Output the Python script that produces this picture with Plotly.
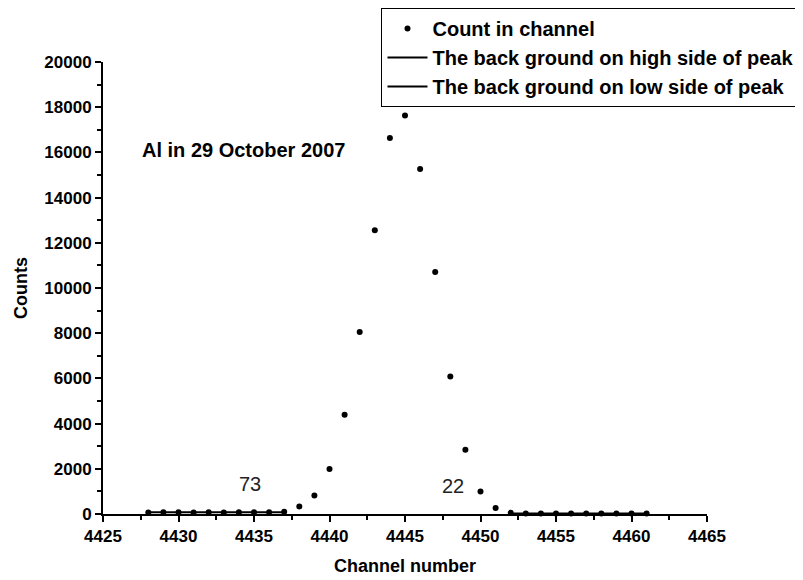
import plotly.graph_objects as go

channels = list(range(4428, 4462))
counts = [70, 75, 72, 68, 74, 71, 77, 73, 78, 95,
          336, 823, 1991, 4390, 8055, 12550, 16637, 17637, 15265, 10708,
          6088, 2845, 1000, 265, 50, 25, 22, 20, 23, 21, 22, 24, 20, 22]

low_bg_x = [4428, 4437]
low_bg_y = [73, 73]
high_bg_x = [4452, 4461]
high_bg_y = [22, 22]

label_text = "Al in 29 October 2007"
low_label = "73"
high_label = "22"

FONT = "Liberation Sans, Arial, sans-serif"

fig = go.Figure()
fig.add_trace(go.Scatter(x=channels, y=counts, mode="markers",
                         marker=dict(color="black", size=6),
                         name="Count in channel", cliponaxis=False))
fig.add_trace(go.Scatter(x=high_bg_x, y=high_bg_y, mode="lines",
                         line=dict(color="black", width=2),
                         name="The back ground on high side of peak", cliponaxis=False))
fig.add_trace(go.Scatter(x=low_bg_x, y=low_bg_y, mode="lines",
                         line=dict(color="black", width=2),
                         name="The back ground on low side of peak", cliponaxis=False))

fig.add_annotation(x=4434.3, y=16120, text=label_text, showarrow=False,
                   font=dict(size=20, color="black", family=FONT, weight="bold"))
fig.add_annotation(x=4434.75, y=1340, text=low_label, showarrow=False,
                   font=dict(size=20, color="#222", family=FONT))
fig.add_annotation(x=4448.2, y=1250, text=high_label, showarrow=False,
                   font=dict(size=20, color="#222", family=FONT))

fig.update_layout(
    width=803, height=580,
    margin=dict(l=95, r=104, t=54, b=74, autoexpand=False),
    paper_bgcolor="white", plot_bgcolor="white",
    font=dict(family=FONT, color="black", size=17),
    showlegend=True,
    legend=dict(xref="container", yref="container",
                x=0.7254, xanchor="center", y=1.0, yanchor="top",
                bordercolor="black", borderwidth=1, bgcolor="white",
                font=dict(size=20, family=FONT, color="black", weight="bold"),
                tracegroupgap=0, itemwidth=40),
    xaxis=dict(range=[4425, 4465], dtick=5, tick0=4425, showgrid=False, zeroline=False,
               showline=True, linecolor="black", linewidth=2,
               ticks="outside", ticklen=6, tickwidth=2, tickcolor="black",
               minor=dict(dtick=2.5, ticks="outside", ticklen=4, tickwidth=2, tickcolor="black"),
               tickfont=dict(size=17, family=FONT, weight="bold"),
               title=dict(text="Channel number", font=dict(size=18, weight="bold"), standoff=14)),
    yaxis=dict(range=[0, 20000], dtick=2000, tickformat="d", showgrid=False, zeroline=False,
               showline=True, linecolor="black", linewidth=2,
               ticks="outside", ticklen=6, tickwidth=2, tickcolor="black",
               minor=dict(dtick=1000, ticks="outside", ticklen=4, tickwidth=2, tickcolor="black"),
               tickfont=dict(size=17, family=FONT, weight="bold"),
               title=dict(text="Counts", font=dict(size=18, weight="bold"), standoff=12)),
)

fig.write_html("out.html")
